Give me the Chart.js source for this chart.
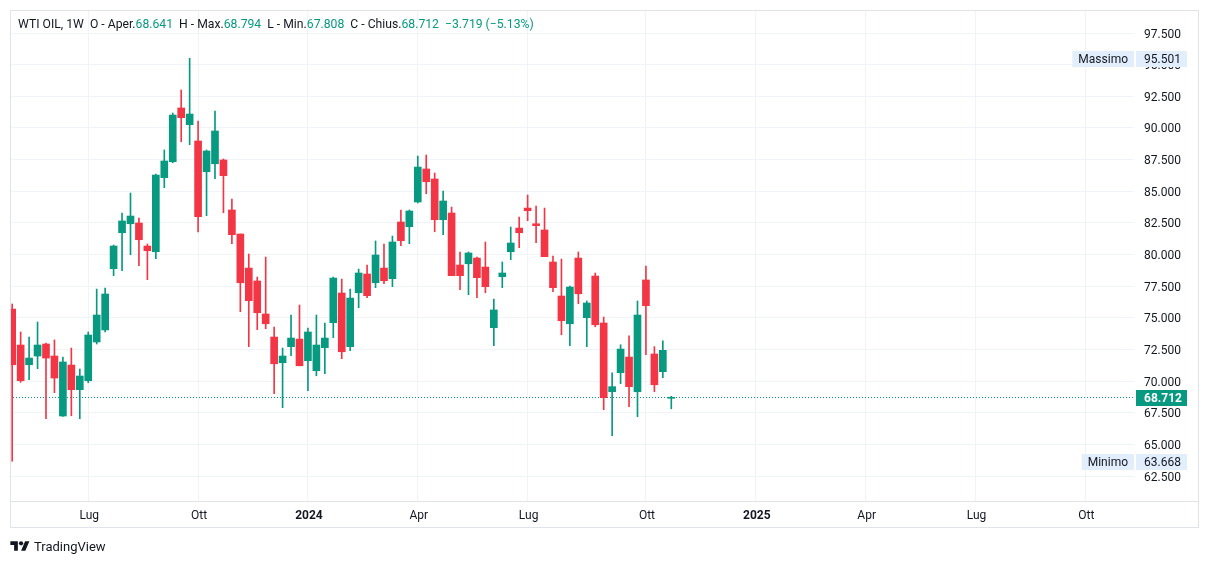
<!DOCTYPE html>
<html><head><meta charset="utf-8">
<script src="https://cdn.jsdelivr.net/npm/chart.js@4.4.1/dist/chart.umd.min.js"></script>
<style>
html,body{margin:0;padding:0;background:#fff;width:1209px;height:564px;overflow:hidden;font-family:Roboto,"Liberation Sans",sans-serif;}
#c{position:absolute;left:0;top:0;}
#hdr{position:absolute;left:18px;top:16px;font-size:12.2px;color:#131722;white-space:pre;line-height:16px;}
#hdr .g{color:#089981}
#foot{position:absolute;left:10px;top:538px;font-size:13px;color:#131722;display:flex;align-items:center;height:16px;}
#foot svg{margin-right:4px}
</style></head>
<body>
<canvas id="c" width="1209" height="564"></canvas>
<div id="hdr">WTI OIL, 1W  O - Aper.<span class="g">68.641</span>  H - Max.<span class="g">68.794</span>  L - Min.<span class="g">67.808</span>  C - Chius.<span class="g">68.712</span>  <span class="g">−3.719 (−5.13%)</span></div>
<div id="foot"><svg width="20" height="15" viewBox="0 0 36 28"><path fill="#131722" d="M14 22H7V11H0V4h14v18zM28 22h-8l7.5-18h8L28 22z"/><circle fill="#131722" cx="20" cy="8" r="4"/></svg><span>TradingView</span></div>
<script>
const weeks = ['2023-05-01','2023-05-08','2023-05-15','2023-05-22','2023-05-29','2023-06-05','2023-06-12','2023-06-19','2023-06-26','2023-07-03',
'2023-07-10','2023-07-17','2023-07-24','2023-07-31','2023-08-07','2023-08-14','2023-08-21','2023-08-28','2023-09-04','2023-09-11',
'2023-09-18','2023-09-25','2023-10-02','2023-10-09','2023-10-16','2023-10-23','2023-10-30','2023-11-06','2023-11-13','2023-11-20',
'2023-11-27','2023-12-04','2023-12-11','2023-12-18','2023-12-25','2024-01-01','2024-01-08','2024-01-15','2024-01-22','2024-01-29',
'2024-02-05','2024-02-12','2024-02-19','2024-02-26','2024-03-04','2024-03-11','2024-03-18','2024-03-25','2024-04-01','2024-04-08',
'2024-04-15','2024-04-22','2024-04-29','2024-05-06','2024-05-13','2024-05-20','2024-05-27','2024-06-03','2024-06-10','2024-06-17',
'2024-06-24','2024-07-01','2024-07-08','2024-07-15','2024-07-22','2024-07-29','2024-08-05','2024-08-12','2024-08-19','2024-08-26',
'2024-09-02','2024-09-09','2024-09-16','2024-09-23','2024-09-30','2024-10-07','2024-10-14','2024-10-21','2024-10-28'];
const open = [75.69,72.85,71.29,71.98,72.93,71.98,67.24,71.27,69.32,70.03,
73.09,74.04,78.88,81.72,82.43,82.49,80.67,80.22,86.07,87.33,
91.58,90.26,88.97,86.54,87.17,87.47,83.52,81.62,78.93,77.91,
75.30,73.48,71.45,72.72,73.32,71.61,70.82,72.64,74.61,76.96,
72.72,76.98,78.46,77.77,78.93,78.09,82.57,82.20,84.15,86.76,
85.97,82.75,83.28,79.17,79.27,79.72,79.01,74.22,78.25,80.22,
82.09,83.67,82.43,81.94,79.41,76.72,74.53,79.72,75.01,78.30,
74.59,69.16,70.66,71.90,69.16,77.99,72.14,70.74,68.641];
const high = [76.09,73.88,73.48,74.67,73.00,73.25,71.90,72.61,70.95,73.88,
77.27,77.35,80.75,83.28,84.86,82.88,80.83,86.36,88.26,91.18,
93.00,95.501,90.55,88.26,91.34,87.55,84.38,81.62,80.04,78.22,
79.80,74.27,72.61,75.22,76.01,74.19,75.22,74.59,78.22,78.06,
77.27,78.85,79.17,81.07,80.83,81.46,83.52,83.52,87.78,87.86,
86.44,85.02,83.75,80.20,80.20,79.80,80.99,76.48,79.41,82.17,
82.96,84.70,83.83,83.67,79.88,79.64,77.51,80.20,76.33,78.54,
75.06,70.66,72.87,73.58,76.33,79.09,72.72,73.19,68.794];
const low = [63.668,69.90,70.11,70.98,67.03,69.08,67.20,67.26,67.03,69.87,
72.93,73.88,78.33,78.72,79.98,79.12,78.01,79.67,85.28,87.25,
88.91,88.68,81.78,83.07,85.99,83.30,80.85,75.48,72.72,74.06,
74.14,69.00,67.90,72.00,71.21,69.24,70.42,70.58,73.43,71.77,
72.40,75.80,76.59,77.38,77.69,77.46,80.70,80.85,84.07,84.80,
81.80,81.56,78.33,77.22,76.82,76.59,76.98,72.79,77.38,79.59,
80.54,82.67,80.93,79.83,77.06,73.66,72.79,76.11,72.72,74.29,
67.74,65.68,69.79,67.98,67.19,72.08,69.16,70.27,67.808];
const close = [71.29,70.03,71.82,72.85,71.82,70.24,71.51,69.32,70.40,73.64,
75.22,76.88,80.67,82.65,83.04,81.17,80.30,86.28,87.39,91.02,
90.81,91.10,82.99,88.18,89.76,86.23,81.57,77.77,76.35,75.40,
74.53,71.37,71.98,73.40,71.21,73.88,72.85,73.40,78.14,72.32,
76.56,78.54,76.75,79.96,77.93,80.99,81.09,83.44,86.91,85.75,
82.75,84.23,78.33,78.33,80.12,78.17,77.46,75.62,78.54,80.91,
81.72,83.46,82.28,79.83,77.38,74.77,77.43,76.90,76.17,74.45,
68.69,69.56,72.53,69.56,75.22,75.96,69.71,72.431,68.712];
const timeTickDates = ['2023-07-03','2023-10-02','2024-01-01','2024-04-01','2024-07-01','2024-10-07','2025-01-06','2025-04-07','2025-07-07','2025-10-06'];
const timeTickLabels = ['Lug','Ott','2024','Apr','Lug','Ott','2025','Apr','Lug','Ott'];
const priceTicks = [62.5,65,67.5,70,72.5,75,77.5,80,82.5,85,87.5,90,92.5,95,97.5];
const maxInfo = {label:'Massimo', value:95.501};
const minInfo = {label:'Minimo', value:63.668};

const UP = '#089981', DOWN = '#F23645';
const t0 = Date.parse(weeks[0]);
const wk = d => (Date.parse(d) - t0) / (7*86400000);
const xs = weeks.map(wk);
const tickX = timeTickDates.map(wk);
const col = open.map((o,i) => close[i] >= o ? UP : DOWN);
const FONT = 'Roboto, "Liberation Sans", sans-serif';

const overlay = {
  id:'overlay',
  beforeDraw(chart){
    const ctx = chart.ctx;
    ctx.save(); ctx.fillStyle='#fff'; ctx.fillRect(0,0,chart.width,chart.height); ctx.restore();
  },
  beforeDatasetsDraw(chart){
    const {ctx, chartArea:a, scales:{y}} = chart;
    const yl = Math.round(y.getPixelForValue(close[close.length-1])) + 0.5;
    ctx.save();
    ctx.strokeStyle = UP; ctx.lineWidth = 1; ctx.setLineDash([1,2]);
    ctx.beginPath(); ctx.moveTo(a.left, yl); ctx.lineTo(a.right, yl); ctx.stroke();
    ctx.restore();
  },
  afterDraw(chart){
    const {ctx, chartArea:a, scales:{x,y}} = chart;
    ctx.save();
    ctx.textBaseline = 'middle';
    const box = (val, fill, txtCol, bold, label) => {
      const yy = Math.round(y.getPixelForValue(val)) + 1;
      ctx.fillStyle = fill;
      ctx.fillRect(a.right + 2, yy - 8, 51, 16);
      ctx.fillStyle = txtCol;
      ctx.font = (bold ? 'bold ' : '') + '12px ' + FONT;
      ctx.textAlign = 'left';
      ctx.fillText(val.toFixed(3), a.right + 10, yy + 0.5);
      if (label) {
        ctx.font = '12px ' + FONT;
        const w = ctx.measureText(label).width + 12;
        ctx.fillStyle = fill;
        ctx.fillRect(a.right - w, yy - 8, w, 16);
        ctx.fillStyle = '#131722';
        ctx.textAlign = 'center';
        ctx.fillText(label, a.right - w/2, yy + 0.5);
      }
    };
    box(maxInfo.value, '#e3eefd', '#131722', false, maxInfo.label);
    box(minInfo.value, '#e3eefd', '#131722', false, minInfo.label);
    box(close[close.length-1], UP, '#ffffff', true, null);
    // frame
    ctx.strokeStyle = '#e0e3eb'; ctx.lineWidth = 1;
    ctx.strokeRect(a.left + 0.5, a.top + 0.5, chart.width - 11 - a.left, x.bottom - a.top);
    ctx.beginPath(); ctx.moveTo(a.left, a.bottom + 0.5); ctx.lineTo(chart.width - 11, a.bottom + 0.5); ctx.stroke();
    ctx.restore();
  }
};

new Chart(document.getElementById('c'), {
  type:'bar',
  data:{
    datasets:[
      { label:'body', data: xs.map((xv,i)=>({x:xv, y:[open[i], close[i]]})), backgroundColor: col,
        barThickness:7, minBarLength:1, grouped:false, order:0 },
      { label:'wick', data: xs.map((xv,i)=>({x:xv, y:[low[i], high[i]]})), backgroundColor: col,
        barThickness:1, grouped:false, order:1 }
    ]
  },
  options:{
    responsive:false, animation:false, events:[],
    layout:{padding:{left:10, top:10, right:11, bottom:37}},
    plugins:{legend:{display:false}, tooltip:{enabled:false}},
    scales:{
      x:{ type:'linear', position:'bottom', min:-0.26, max:132.76, offset:false,
          grid:{offset:false, color:'#f0f3fa', drawTicks:false},
          border:{display:false},
          afterBuildTicks: s => { s.ticks = tickX.map(v=>({value:v})); },
          afterFit: s => { s.height = 26; s.paddingLeft = 0; s.paddingRight = 0; s.paddingTop = 0; s.paddingBottom = 0; },
          ticks:{ padding:8, labelOffset:1, color:'#131722', maxRotation:0, autoSkip:false,
            font: c => ({family:FONT, size:12, weight: (c.tick && /^\d{4}$/.test(timeTickLabels[c.index])) ? 'bold' : 'normal'}),
            callback: (v,i) => timeTickLabels[i] }
      },
      y:{ type:'linear', position:'right', min:60.525, max:99.32,
          grid:{color:'#f0f3fa', drawTicks:false},
          border:{display:false},
          afterBuildTicks: s => { s.ticks = priceTicks.map(v=>({value:v})); },
          afterFit: s => { s.width = 64; s.paddingTop = 0; s.paddingBottom = 0; s.paddingLeft = 0; s.paddingRight = 0; },
          ticks:{ padding:10, labelOffset:1.5, color:'#131722', font:{family:FONT, size:12},
            callback: v => v.toFixed(3) }
      }
    }
  },
  plugins:[overlay]
});
</script>
</body></html>
